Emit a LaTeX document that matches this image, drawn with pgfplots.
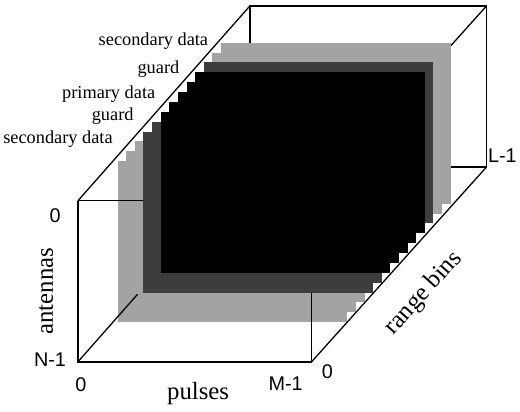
\documentclass[border=0pt]{standalone}
\usepackage{pgfplots}
\pgfplotsset{compat=1.18}
\usepackage{fontspec}
\setmainfont{Liberation Serif}
\newfontfamily\sansf{Liberation Sans}
\definecolor{lg}{gray}{0.64}
\definecolor{dg}{gray}{0.24}
\begin{document}
\begin{tikzpicture}
\begin{axis}[
  width=520bp, height=414bp, scale only axis,
  xmin=0, xmax=520, ymin=0, ymax=414, y dir=reverse,
  axis lines=none, ticks=none, clip=false, no markers,
  every axis plot/.append style={line join=miter},
]
\path (rel axis cs:0,0) rectangle (rel axis cs:1,1);
% ---- back cube edges (behind the data)
\addplot[black, line width=1.3bp] coordinates {(250,168) (250,6) (488,6) (488,168) (250,168)};
\addplot[black, line width=1.3bp] coordinates {(77,202) (250,6)};
\addplot[black, line width=1.3bp] coordinates {(312,202) (488,6)};
% ---- secondary data range bins (light)
\addplot[fill=lg, draw=none] coordinates {(221,43) (452,43) (452,205) (221,205)} -- cycle;
\addplot[fill=lg, draw=none] coordinates {(212.3,52.9) (443.3,52.9) (443.3,214.9) (212.3,214.9)} -- cycle;
\addplot[fill=lg, draw=none] coordinates {(134.3,142.2) (365.3,142.2) (365.3,304.2) (134.3,304.2)} -- cycle;
\addplot[fill=lg, draw=none] coordinates {(125.7,152.1) (356.7,152.1) (356.7,314.1) (125.7,314.1)} -- cycle;
\addplot[fill=lg, draw=none] coordinates {(117,162) (348,162) (348,324) (117,324)} -- cycle;
% ---- front cube edges
\addplot[black, line width=1.3bp] coordinates {(77,202) (312,202) (312,364) (77,364) (77,202)};
\addplot[black, line width=1.3bp] coordinates {(77,364) (137,296)};
% ---- guard range bins (dark)
\addplot[fill=dg, draw=none] coordinates {(203.7,62.8) (434.7,62.8) (434.7,224.8) (203.7,224.8)} -- cycle;
\addplot[fill=dg, draw=none] coordinates {(151.7,122.3) (382.7,122.3) (382.7,284.3) (151.7,284.3)} -- cycle;
\addplot[fill=dg, draw=none] coordinates {(143,132.3) (374,132.3) (374,294.3) (143,294.3)} -- cycle;
% ---- primary data range bins (black)
\addplot[fill=black, draw=none] coordinates {(195,72.8) (426,72.8) (426,234.8) (195,234.8)} -- cycle;
\addplot[fill=black, draw=none] coordinates {(186.3,82.7) (417.3,82.7) (417.3,244.7) (186.3,244.7)} -- cycle;
\addplot[fill=black, draw=none] coordinates {(177.7,92.6) (408.7,92.6) (408.7,254.6) (177.7,254.6)} -- cycle;
\addplot[fill=black, draw=none] coordinates {(169,102.5) (400,102.5) (400,264.5) (169,264.5)} -- cycle;
\addplot[fill=black, draw=none] coordinates {(160.3,112.4) (391.3,112.4) (391.3,274.4) (160.3,274.4)} -- cycle;
% ---- bottom right receding edge
\addplot[black, line width=1.3bp] coordinates {(312,364) (488,168)};
% ---- labels
\node[font=\fontsize{18.5}{18.5}\selectfont] at (axis cs:153,41) {secondary data};
\node[font=\fontsize{18.5}{18.5}\selectfont] at (axis cs:158,70) {guard};
\node[font=\fontsize{18.5}{18.5}\selectfont] at (axis cs:108,95) {primary data};
\node[font=\fontsize{18.5}{18.5}\selectfont] at (axis cs:112,117) {guard};
\node[font=\fontsize{18.5}{18.5}\selectfont] at (axis cs:57,140) {secondary data};
\node[font=\sansf\fontsize{20}{20}\selectfont] at (axis cs:54,217) {0};
\node[font=\sansf\fontsize{20}{20}\selectfont] at (axis cs:49,362) {N-1};
\node[font=\sansf\fontsize{20}{20}\selectfont] at (axis cs:80,387) {0};
\node[font=\sansf\fontsize{20}{20}\selectfont] at (axis cs:286,386) {M-1};
\node[font=\sansf\fontsize{20}{20}\selectfont] at (axis cs:328,374) {0};
\node[font=\sansf\fontsize{20}{20}\selectfont] at (axis cs:504,157) {L-1};
\node[font=\fontsize{25}{25}\selectfont, rotate=90] at (axis cs:45,293) {antennas};
\node[font=\fontsize{25}{25}\selectfont] at (axis cs:198,396) {pulses};
\node[font=\fontsize{25}{25}\selectfont, rotate=48] at (axis cs:425,295) {range bins};
\end{axis}
\end{tikzpicture}
\end{document}
